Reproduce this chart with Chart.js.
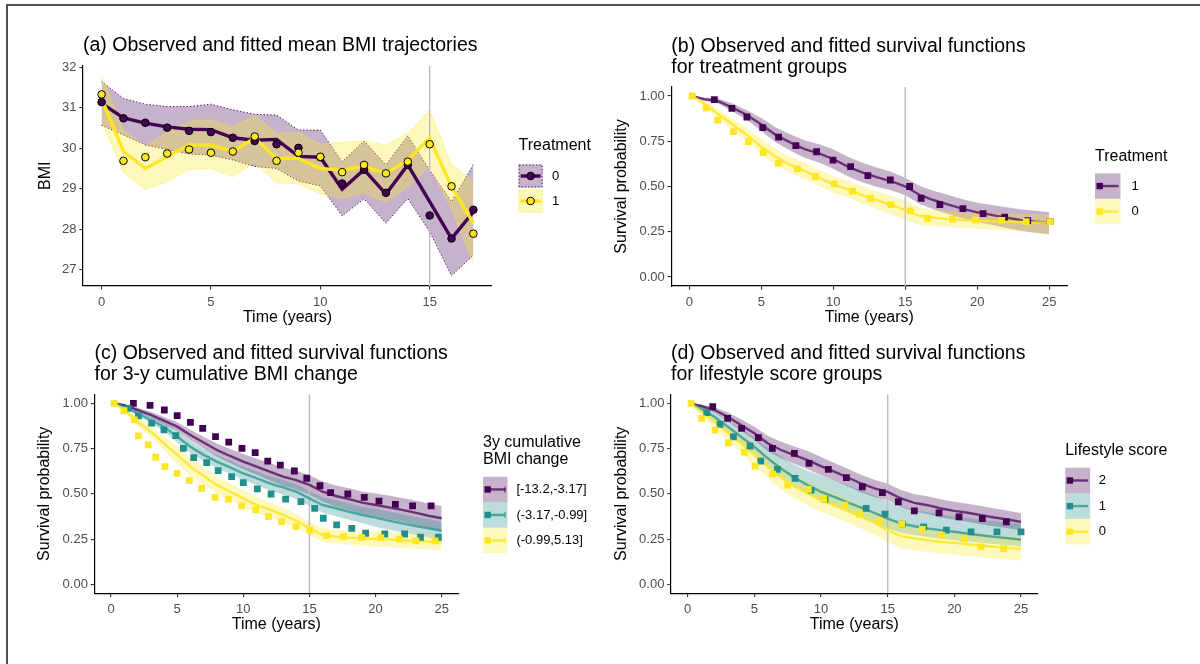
<!DOCTYPE html>
<html>
<head>
<meta charset="utf-8">
<script src="https://cdn.jsdelivr.net/npm/chart.js@4.4.1/dist/chart.umd.min.js"></script>
<style>
  body { margin: 0; background: #fff; width: 1200px; height: 664px; overflow: hidden; position: relative; }
  canvas { position: absolute; }
  #frame { position: absolute; left: 6px; top: 4px; width: 1200px; height: 700px;
           border-top: 2px solid #505050; border-left: 2px solid #505050; }
</style>
</head>
<body>
<div id="frame"></div>
<canvas id="pa" width="600" height="332" style="left:0;top:0"></canvas>
<canvas id="pb" width="600" height="332" style="left:600px;top:0"></canvas>
<canvas id="pc" width="600" height="332" style="left:0;top:332px"></canvas>
<canvas id="pd" width="600" height="332" style="left:600px;top:332px"></canvas>
<script>
// ---- panel (a): mean BMI by year ----
const yearsA = [0, 1, 2, 3, 4, 5, 6, 7, 8, 9, 10, 11, 12, 13, 14, 15, 16, 17];
const bmiObs0 = [31.14, 30.74, 30.63, 30.51, 30.43, 30.40, 30.26, 30.18, 30.10, 30.01, 29.78, 29.13, 29.47, 28.90, 29.59, 28.34, 27.77, 28.48];
const bmiFit0 = [31.11, 30.75, 30.62, 30.53, 30.47, 30.46, 30.26, 30.20, 30.22, 29.80, 29.78, 28.99, 29.47, 28.87, 29.59, 28.68, 27.77, 28.43];
const bmiUp0  = [31.65, 31.23, 31.09, 31.03, 31.03, 31.09, 30.95, 30.84, 30.82, 30.45, 30.45, 29.67, 30.18, 29.59, 30.31, 29.46, 28.68, 29.60];
const bmiLo0  = [30.57, 30.33, 30.08, 29.97, 29.86, 29.83, 29.71, 29.55, 29.50, 29.19, 29.07, 28.33, 28.75, 28.15, 28.76, 27.94, 26.85, 27.36];
const bmiObs1 = [31.33, 29.69, 29.78, 29.87, 29.97, 29.89, 29.92, 30.29, 29.69, 29.89, 29.79, 29.41, 29.59, 29.38, 29.67, 30.10, 29.06, 27.89];
const bmiFit1 = [31.23, 29.92, 29.50, 29.79, 30.08, 30.08, 29.92, 30.25, 29.75, 29.75, 29.50, 29.46, 29.55, 29.38, 29.71, 30.25, 29.05, 28.15];
const bmiUp1  = [31.79, 30.45, 30.05, 30.40, 30.67, 30.70, 30.53, 30.81, 30.37, 30.39, 30.10, 30.15, 30.18, 30.08, 30.37, 30.95, 29.60, 29.20];
const bmiLo1  = [30.67, 29.40, 28.98, 29.17, 29.47, 29.50, 29.30, 29.65, 29.15, 29.12, 28.88, 28.77, 28.90, 28.68, 29.05, 29.55, 28.50, 27.15];
const bmiTicksX = [0, 5, 10, 15];
const bmiTicksY = [27, 28, 29, 30, 31, 32];

// ---- survival panels: fitted curves share the time grid ----
const survT = [0.2, 1, 2, 3, 4, 5, 6, 7, 8, 9, 10, 11, 12, 13, 14, 15, 16, 17, 18, 19, 20, 21, 22, 23, 24, 25];
const survTicksX = [0, 5, 10, 15, 20, 25];
const survTicksY = [0, 0.25, 0.5, 0.75, 1];

// (b) treatment groups: 1 (purple), 0 (yellow)
const trtFit1 = [1.0, 0.983, 0.972, 0.936, 0.895, 0.843, 0.785, 0.744, 0.707, 0.683, 0.652, 0.61, 0.578, 0.552, 0.53, 0.50, 0.453, 0.424, 0.40, 0.376, 0.357, 0.343, 0.328, 0.315, 0.306, 0.30];
const trtUp1  = [1.0, 0.992, 0.986, 0.958, 0.921, 0.879, 0.826, 0.789, 0.755, 0.734, 0.706, 0.664, 0.632, 0.605, 0.581, 0.549, 0.503, 0.475, 0.453, 0.429, 0.41, 0.398, 0.385, 0.374, 0.366, 0.358];
const trtLo1  = [1.0, 0.974, 0.958, 0.914, 0.869, 0.807, 0.744, 0.699, 0.659, 0.632, 0.598, 0.556, 0.524, 0.499, 0.479, 0.451, 0.403, 0.373, 0.347, 0.323, 0.304, 0.288, 0.271, 0.256, 0.245, 0.236];
const trtFit0 = [1.0, 0.96, 0.90, 0.843, 0.785, 0.72, 0.665, 0.619, 0.586, 0.549, 0.512, 0.486, 0.453, 0.425, 0.398, 0.37, 0.337, 0.328, 0.32, 0.315, 0.31, 0.308, 0.306, 0.304, 0.302, 0.30];
const trtUp0  = [1.0, 0.972, 0.924, 0.874, 0.822, 0.762, 0.709, 0.664, 0.632, 0.595, 0.558, 0.533, 0.501, 0.474, 0.449, 0.422, 0.384, 0.372, 0.363, 0.358, 0.354, 0.352, 0.35, 0.348, 0.346, 0.344];
const trtLo0  = [1.0, 0.948, 0.876, 0.812, 0.748, 0.678, 0.621, 0.574, 0.54, 0.503, 0.466, 0.439, 0.405, 0.376, 0.347, 0.316, 0.287, 0.28, 0.275, 0.271, 0.267, 0.262, 0.257, 0.251, 0.245, 0.24];
const trtObsT1 = [1.74, 2.96, 4.0, 5.1, 6.2, 7.4, 8.84, 9.98, 11.2, 12.4, 13.96, 15.3, 16.1, 17.4, 19.0, 20.4, 21.9, 23.5, 25.05];
const trtObsS1 = [0.98, 0.932, 0.884, 0.825, 0.773, 0.726, 0.692, 0.646, 0.61, 0.56, 0.536, 0.50, 0.435, 0.40, 0.378, 0.35, 0.331, 0.311, 0.306];
const trtObsT0 = [0.2, 1.16, 1.97, 3.06, 4.1, 5.14, 6.18, 7.5, 8.77, 10.07, 11.34, 12.6, 14.0, 15.35, 16.55, 18.27, 19.9, 21.7, 23.4, 25.05];
const trtObsS0 = [1.0, 0.935, 0.867, 0.803, 0.748, 0.687, 0.628, 0.597, 0.554, 0.514, 0.475, 0.435, 0.40, 0.365, 0.324, 0.32, 0.315, 0.313, 0.306, 0.306];

// (c) 3-y cumulative BMI change groups
const chgLabels = ['[-13.2,-3.17]', '(-3.17,-0.99]', '(-0.99,5.13]'];
const chgFitA = [1.0, 0.99, 0.963, 0.936, 0.904, 0.871, 0.825, 0.783, 0.742, 0.709, 0.678, 0.65, 0.622, 0.595, 0.576, 0.549, 0.512, 0.488, 0.471, 0.451, 0.438, 0.425, 0.411, 0.396, 0.379, 0.365];
const chgUpA  = [1.0, 0.996, 0.975, 0.953, 0.925, 0.895, 0.853, 0.815, 0.778, 0.748, 0.72, 0.695, 0.67, 0.645, 0.628, 0.603, 0.568, 0.546, 0.531, 0.513, 0.502, 0.49, 0.477, 0.463, 0.446, 0.432];
const chgLoA  = [1.0, 0.984, 0.951, 0.919, 0.883, 0.847, 0.797, 0.751, 0.706, 0.67, 0.636, 0.605, 0.574, 0.545, 0.524, 0.495, 0.456, 0.43, 0.411, 0.389, 0.374, 0.36, 0.345, 0.329, 0.312, 0.298];
const chgFitB = [1.0, 0.982, 0.945, 0.908, 0.871, 0.816, 0.76, 0.715, 0.678, 0.646, 0.613, 0.586, 0.558, 0.536, 0.512, 0.475, 0.438, 0.42, 0.401, 0.383, 0.368, 0.352, 0.337, 0.322, 0.309, 0.296];
const chgUpB  = [1.0, 0.99, 0.958, 0.926, 0.895, 0.848, 0.794, 0.75, 0.714, 0.683, 0.65, 0.624, 0.597, 0.576, 0.553, 0.517, 0.481, 0.464, 0.446, 0.429, 0.418, 0.402, 0.387, 0.372, 0.359, 0.346];
const chgLoB  = [1.0, 0.974, 0.932, 0.89, 0.847, 0.784, 0.726, 0.68, 0.642, 0.609, 0.576, 0.548, 0.519, 0.496, 0.471, 0.433, 0.395, 0.376, 0.356, 0.337, 0.318, 0.302, 0.287, 0.272, 0.259, 0.246];
const chgFitC = [1.0, 0.963, 0.899, 0.843, 0.779, 0.715, 0.65, 0.599, 0.549, 0.512, 0.475, 0.438, 0.414, 0.383, 0.352, 0.309, 0.273, 0.263, 0.258, 0.254, 0.25, 0.247, 0.243, 0.239, 0.236, 0.232];
const chgUpC  = [1.0, 0.973, 0.92, 0.872, 0.815, 0.765, 0.698, 0.646, 0.595, 0.558, 0.521, 0.482, 0.456, 0.423, 0.39, 0.346, 0.311, 0.302, 0.298, 0.295, 0.292, 0.289, 0.285, 0.281, 0.278, 0.274];
const chgLoC  = [1.0, 0.953, 0.878, 0.814, 0.743, 0.665, 0.602, 0.552, 0.503, 0.466, 0.429, 0.394, 0.372, 0.343, 0.314, 0.272, 0.235, 0.224, 0.218, 0.213, 0.208, 0.205, 0.201, 0.197, 0.194, 0.19];
const chgObsTA = [1.69, 2.95, 4.03, 5.0, 6.0, 6.93, 7.9, 8.9, 9.9, 10.9, 11.85, 12.8, 13.86, 14.8, 15.8, 16.6, 17.9, 19.15, 20.26, 21.5, 22.8, 24.2];
const chgObsSA = [1.0, 0.989, 0.963, 0.932, 0.895, 0.862, 0.816, 0.785, 0.751, 0.727, 0.681, 0.659, 0.626, 0.586, 0.545, 0.506, 0.499, 0.48, 0.46, 0.442, 0.433, 0.433];
const chgObsTB = [1.3, 2.07, 3.07, 4.0, 4.9, 5.47, 6.25, 7.23, 8.1, 9.12, 10.0, 11.06, 12.1, 13.2, 14.36, 15.4, 16.05, 17.06, 18.2, 19.25, 20.7, 22.2, 23.4, 24.75];
const chgObsSB = [0.972, 0.93, 0.89, 0.853, 0.821, 0.751, 0.70, 0.672, 0.628, 0.595, 0.562, 0.527, 0.499, 0.471, 0.457, 0.42, 0.365, 0.328, 0.309, 0.282, 0.278, 0.278, 0.26, 0.26];
const chgObsTC = [0.23, 0.98, 1.76, 2.07, 2.82, 3.38, 4.08, 4.99, 5.92, 6.85, 7.86, 8.87, 9.88, 10.94, 11.9, 12.9, 13.98, 15.04, 16.3, 17.6, 18.95, 20.4, 21.8, 23.06, 24.5];
const chgObsSC = [1.0, 0.96, 0.908, 0.82, 0.77, 0.702, 0.65, 0.613, 0.573, 0.53, 0.48, 0.47, 0.433, 0.411, 0.374, 0.346, 0.319, 0.30, 0.269, 0.263, 0.258, 0.258, 0.25, 0.24, 0.24];

// (d) lifestyle score groups 2, 1, 0
const lsFit2 = [1.0, 0.985, 0.963, 0.926, 0.88, 0.834, 0.779, 0.742, 0.714, 0.686, 0.653, 0.622, 0.59, 0.557, 0.53, 0.511, 0.474, 0.45, 0.437, 0.419, 0.406, 0.395, 0.382, 0.369, 0.358, 0.345];
const lsUp2  = [1.0, 0.993, 0.978, 0.951, 0.912, 0.871, 0.821, 0.787, 0.762, 0.736, 0.703, 0.67, 0.638, 0.605, 0.578, 0.556, 0.521, 0.498, 0.486, 0.469, 0.456, 0.445, 0.432, 0.419, 0.407, 0.393];
const lsLo2  = [1.0, 0.977, 0.948, 0.901, 0.848, 0.797, 0.737, 0.697, 0.666, 0.636, 0.603, 0.574, 0.542, 0.509, 0.482, 0.466, 0.427, 0.402, 0.388, 0.369, 0.356, 0.345, 0.332, 0.319, 0.309, 0.297];
const lsFit1 = [1.0, 0.972, 0.926, 0.871, 0.815, 0.76, 0.696, 0.64, 0.59, 0.548, 0.511, 0.483, 0.452, 0.424, 0.395, 0.363, 0.336, 0.321, 0.308, 0.299, 0.29, 0.28, 0.271, 0.262, 0.255, 0.247];
const lsUp1  = [1.0, 0.985, 0.95, 0.905, 0.858, 0.81, 0.755, 0.705, 0.66, 0.628, 0.60, 0.575, 0.547, 0.52, 0.49, 0.46, 0.43, 0.412, 0.398, 0.386, 0.375, 0.365, 0.356, 0.348, 0.341, 0.335];
const lsLo1  = [1.0, 0.96, 0.905, 0.84, 0.776, 0.72, 0.65, 0.59, 0.54, 0.497, 0.46, 0.43, 0.398, 0.368, 0.338, 0.31, 0.285, 0.272, 0.262, 0.253, 0.245, 0.237, 0.23, 0.223, 0.216, 0.21];
const lsFit0 = [1.0, 0.954, 0.899, 0.838, 0.779, 0.714, 0.65, 0.59, 0.539, 0.502, 0.465, 0.437, 0.406, 0.373, 0.34, 0.299, 0.266, 0.253, 0.244, 0.234, 0.229, 0.221, 0.214, 0.207, 0.201, 0.196];
const lsUp0  = [1.0, 0.97, 0.93, 0.88, 0.83, 0.774, 0.712, 0.654, 0.603, 0.566, 0.53, 0.502, 0.471, 0.438, 0.405, 0.364, 0.331, 0.318, 0.309, 0.299, 0.294, 0.286, 0.279, 0.272, 0.266, 0.261];
const lsLo0  = [1.0, 0.938, 0.868, 0.796, 0.728, 0.654, 0.588, 0.526, 0.475, 0.438, 0.40, 0.372, 0.341, 0.308, 0.275, 0.234, 0.201, 0.188, 0.179, 0.169, 0.164, 0.156, 0.149, 0.142, 0.136, 0.131];
const lsObsT2 = [1.88, 3.0, 4.05, 5.3, 6.35, 8.0, 9.1, 10.55, 11.9, 13.1, 14.6, 15.8, 17.0, 18.85, 20.35, 22.1, 23.9];
const lsObsS2 = [0.982, 0.917, 0.862, 0.81, 0.751, 0.723, 0.668, 0.635, 0.589, 0.539, 0.507, 0.456, 0.406, 0.395, 0.373, 0.363, 0.345];
const lsObsT1 = [1.43, 2.43, 3.43, 4.68, 5.48, 6.73, 8.05, 9.25, 10.3, 13.38, 14.8, 16.1, 17.7, 19.4, 21.25, 23.2, 25.0];
const lsObsS1 = [0.948, 0.884, 0.815, 0.764, 0.681, 0.635, 0.585, 0.52, 0.469, 0.419, 0.387, 0.332, 0.317, 0.299, 0.29, 0.29, 0.29];
const lsObsT0 = [0.25, 1.05, 2.05, 3.05, 4.25, 5.05, 6.38, 7.5, 9.05, 10.2, 11.8, 12.9, 14.4, 16.05, 17.6, 19.05, 20.75, 22.0, 23.7];
const lsObsS0 = [1.0, 0.917, 0.852, 0.782, 0.729, 0.653, 0.609, 0.548, 0.524, 0.469, 0.437, 0.387, 0.351, 0.332, 0.303, 0.271, 0.253, 0.207, 0.197];

const cutYear = 15;

// viridis colours
const PURPLE = '#440154', TEAL = '#21908C', YELLOW = '#FDE725';
const FILL_P = 'rgba(68,1,84,0.3)', FILL_T = 'rgba(33,144,140,0.3)', FILL_Y = 'rgba(253,231,37,0.3)';
const LINE_P = 'rgba(68,1,84,0.72)', LINE_T = 'rgba(33,144,140,0.72)', LINE_Y = 'rgba(253,231,37,0.88)';
const FONT = '"Liberation Sans", Arial, sans-serif';

const pts = (xs, ys) => xs.map((x, i) => ({ x: x, y: ys[i] }));

function band(xs, lo, up, fill, edge) {
  const e = edge ? { borderColor: edge, borderWidth: 1, borderDash: [1.2, 2.2] } : { borderWidth: 0 };
  return [
    Object.assign({ data: pts(xs, lo), pointRadius: 0, fill: false }, e),
    Object.assign({ data: pts(xs, up), pointRadius: 0, fill: '-1', backgroundColor: fill }, e)
  ];
}
function curve(xs, ys, color, w) {
  return { data: pts(xs, ys), borderColor: color, borderWidth: w, pointRadius: 0, fill: false };
}
function marks(xs, ys, color, style, r) {
  return {
    data: pts(xs, ys), showLine: false, pointStyle: style, pointRadius: r,
    pointBackgroundColor: color,
    pointBorderColor: style === 'circle' ? '#000' : color,
    pointBorderWidth: style === 'circle' ? 1 : 0
  };
}
function vline(lo, hi) {
  return { data: pts([cutYear, cutYear], [lo, hi]), borderColor: '#BEBEBE', borderWidth: 1.5, pointRadius: 0, fill: false };
}

// draws title, axis titles and legend the ggplot way
const decor = {
  id: 'decor',
  afterDraw(chart, args, o) {
    const ctx = chart.ctx, a = chart.chartArea;
    ctx.save();
    ctx.fillStyle = '#000';
    ctx.textBaseline = 'middle';
    ctx.textAlign = 'left';
    ctx.font = '19.5px ' + FONT;
    o.title.forEach((t, i) => ctx.fillText(t, a.left, o.titleY + i * 21));

    ctx.font = '16px ' + FONT;
    ctx.textAlign = 'center';
    ctx.fillText('Time (years)', (a.left + a.right) / 2, a.bottom + 31.5);
    ctx.save();
    ctx.translate(a.left - o.yTitleGap, (a.top + a.bottom) / 2);
    ctx.rotate(-Math.PI / 2);
    ctx.fillText(o.yTitle, 0, 0);
    ctx.restore();

    const L = o.legend;
    ctx.textAlign = 'left';
    L.title.forEach((t, i) => ctx.fillText(t, L.x, L.titleY + i * 16.6));
    ctx.font = '13px ' + FONT;
    L.labels.forEach((lab, i) => {
      const top = L.top + i * L.step, cy = top + L.h / 2;
      ctx.fillStyle = L.fills[i];
      ctx.fillRect(L.x, top, L.w, L.h);
      if (L.dotted) {
        ctx.setLineDash([1.2, 2.2]);
        ctx.strokeStyle = L.colors[i];
        ctx.lineWidth = 1;
        ctx.strokeRect(L.x + 0.5, top + 0.5, L.w - 1, L.h - 1);
        ctx.setLineDash([]);
      }
      ctx.strokeStyle = L.lines[i];
      ctx.lineWidth = L.lw;
      ctx.beginPath();
      ctx.moveTo(L.x + 2, cy);
      ctx.lineTo(L.x + L.w - 2, cy);
      ctx.stroke();
      if (L.endBar) {
        ctx.lineWidth = 1.2;
        ctx.beginPath();
        ctx.moveTo(L.x + L.w - 2.5, cy - 3);
        ctx.lineTo(L.x + L.w - 2.5, cy + 3);
        ctx.stroke();
      }
      ctx.fillStyle = L.colors[i];
      if (L.circle) {
        ctx.beginPath();
        ctx.arc(L.x + L.w / 2, cy, 3.8, 0, 2 * Math.PI);
        ctx.fill();
        ctx.strokeStyle = '#000';
        ctx.lineWidth = 1;
        ctx.stroke();
      } else {
        ctx.fillRect(L.x + 1.5, cy - 3.2, 6.4, 6.4);
      }
      ctx.fillStyle = '#000';
      ctx.fillText(lab, L.labelX, cy);
    });
    ctx.restore();
  }
};

// the scale box takes up the whole margin so its labels are not clipped
function axis(min, max, ticks, room, digits, pad) {
  return {
    type: 'linear', min: min, max: max,
    afterBuildTicks: s => { s.ticks = ticks.map(v => ({ value: v })); },
    afterFit: s => { if (s.isHorizontal()) s.height = room; else s.width = room; },
    grid: { display: true, drawOnChartArea: false, drawTicks: true, tickLength: 3.7, color: '#333333', lineWidth: 1.1 },
    border: { display: true, color: '#000', width: 1.2 },
    ticks: {
      color: '#4D4D4D', font: { family: FONT, size: 13 }, padding: pad,
      maxRotation: 0, autoSkip: false,
      callback: v => digits ? v.toFixed(digits) : String(v)
    }
  };
}

function makeChart(id, datasets, area, xr, yr, xt, yt, digits, deco) {
  datasets.forEach((d, i) => { d.order = datasets.length - i; });
  return new Chart(document.getElementById(id), {
    type: 'line',
    data: { datasets: datasets },
    options: {
      responsive: false, animation: false, events: [],
      layout: { padding: { left: 0, bottom: 0, top: area.top, right: area.right } },
      plugins: { legend: { display: false }, tooltip: { enabled: false }, decor: deco },
      scales: {
        x: axis(xr[0], xr[1], xt, area.bottom, 0, 4.6),
        y: axis(yr[0], yr[1], yt, area.left, digits, 2.9)
      }
    },
    plugins: [decor]
  });
}

// ---- (a) ----
makeChart('pa', [].concat(
  band(yearsA, bmiLo0, bmiUp0, FILL_P, PURPLE),
  band(yearsA, bmiLo1, bmiUp1, FILL_Y, YELLOW),
  [vline(26.6, 32.04),
   curve(yearsA, bmiFit0, PURPLE, 3.4), curve(yearsA, bmiFit1, YELLOW, 3.4),
   marks(yearsA, bmiObs0, PURPLE, 'circle', 3.8), marks(yearsA, bmiObs1, YELLOW, 'circle', 3.8)]
), { left: 83, top: 65.7, right: 108, bottom: 46.1 }, [-0.85, 17.85], [26.6, 32.04], bmiTicksX, bmiTicksY, 0, {
  title: ['(a) Observed and fitted mean BMI trajectories'], titleY: 46, yTitle: 'BMI', yTitleGap: 37.5,
  legend: { x: 518.6, title: ['Treatment'], titleY: 146, top: 164.5, step: 25, w: 24, h: 23, labelX: 552,
            labels: ['0', '1'], fills: [FILL_P, FILL_Y], lines: [PURPLE, YELLOW], colors: [PURPLE, YELLOW],
            lw: 3.4, dotted: true, circle: true }
});

// ---- (b) ----
makeChart('pb', [].concat(
  band(survT, trtLo1, trtUp1, FILL_P),
  band(survT, trtLo0, trtUp0, FILL_Y),
  [vline(-0.05, 1.05),
   curve(survT, trtFit1, LINE_P, 2.4), curve(survT, trtFit0, LINE_Y, 2.4),
   marks(trtObsT1, trtObsS1, PURPLE, 'rect', 4.8), marks(trtObsT0, trtObsS0, YELLOW, 'rect', 4.8)]
), { left: 71.3, top: 86.95, right: 132.7, bottom: 45.95 }, [-1.25, 26.25], [-0.05, 1.05], survTicksX, survTicksY, 2, {
  title: ['(b) Observed and fitted survival functions', 'for treatment groups'], titleY: 46.7,
  yTitle: 'Survival probability', yTitleGap: 49.8,
  legend: { x: 495, title: ['Treatment'], titleY: 156.7, top: 173.3, step: 25.5, w: 25.5, h: 25.5, labelX: 531.5,
            labels: ['1', '0'], fills: [FILL_P, FILL_Y], lines: [LINE_P, LINE_Y], colors: [PURPLE, YELLOW], lw: 2.4 }
});

// ---- (c) ----
makeChart('pc', [].concat(
  band(survT, chgLoA, chgUpA, FILL_P),
  band(survT, chgLoB, chgUpB, FILL_T),
  band(survT, chgLoC, chgUpC, FILL_Y),
  [vline(-0.05, 1.05),
   curve(survT, chgFitA, LINE_P, 2.4), curve(survT, chgFitB, LINE_T, 2.4), curve(survT, chgFitC, LINE_Y, 2.4),
   marks(chgObsTA, chgObsSA, PURPLE, 'rect', 4.8), marks(chgObsTB, chgObsSB, TEAL, 'rect', 4.8),
   marks(chgObsTC, chgObsSC, YELLOW, 'rect', 4.8)]
), { left: 94.5, top: 62.25, right: 141.8, bottom: 70.65 }, [-1.25, 26.25], [-0.05, 1.05], survTicksX, survTicksY, 2, {
  title: ['(c) Observed and fitted survival functions', 'for 3-y cumulative BMI change'], titleY: 21.3,
  yTitle: 'Survival probability', yTitleGap: 49.5,
  legend: { x: 483, title: ['3y cumulative', 'BMI change'], titleY: 110.7, top: 144.7, step: 25.5, w: 24.5, h: 25.5,
            labelX: 516.4, labels: chgLabels, fills: [FILL_P, FILL_T, FILL_Y], lines: [LINE_P, LINE_T, LINE_Y],
            colors: [PURPLE, TEAL, YELLOW], lw: 2.4, endBar: true }
});

// ---- (d) ----
makeChart('pd', [].concat(
  band(survT, lsLo2, lsUp2, FILL_P),
  band(survT, lsLo1, lsUp1, FILL_T),
  band(survT, lsLo0, lsUp0, FILL_Y),
  [vline(-0.05, 1.05),
   curve(survT, lsFit2, LINE_P, 2.4), curve(survT, lsFit1, LINE_T, 2.4), curve(survT, lsFit0, LINE_Y, 2.4),
   marks(lsObsT2, lsObsS2, PURPLE, 'rect', 4.8), marks(lsObsT1, lsObsS1, TEAL, 'rect', 4.8),
   marks(lsObsT0, lsObsS0, YELLOW, 'rect', 4.8)]
), { left: 71, top: 62.25, right: 162.3, bottom: 70.65 }, [-1.25, 26.25], [-0.05, 1.05], survTicksX, survTicksY, 2, {
  title: ['(d) Observed and fitted survival functions', 'for lifestyle score groups'], titleY: 21.3,
  yTitle: 'Survival probability', yTitleGap: 49.5,
  legend: { x: 465.2, title: ['Lifestyle score'], titleY: 119, top: 135.7, step: 25.6, w: 25, h: 25.6, labelX: 498.7,
            labels: ['2', '1', '0'], fills: [FILL_P, FILL_T, FILL_Y], lines: [LINE_P, LINE_T, LINE_Y],
            colors: [PURPLE, TEAL, YELLOW], lw: 2.4 }
});
</script>
</body>
</html>
